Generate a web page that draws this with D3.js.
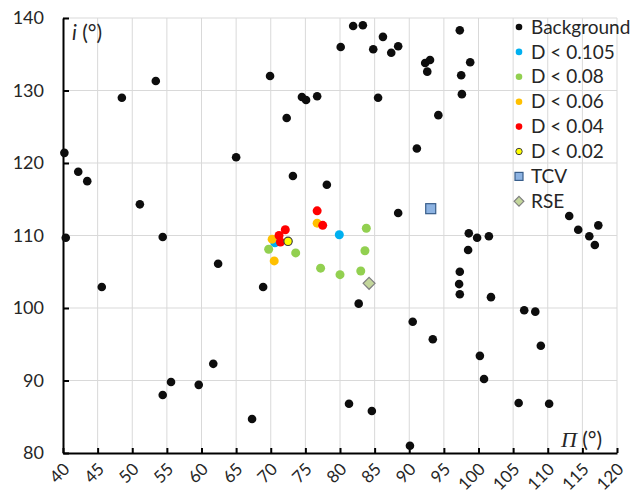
<!DOCTYPE html>
<html>
<head>
<meta charset="utf-8">
<script src="https://cdn.jsdelivr.net/npm/d3@7"></script>
<style>
  body { margin: 0; background: #fff; }
  text { font-family: Lato, "Open Sans", sans-serif; fill: #262626; }
  .grid line { stroke: #d9d9d9; stroke-width: 1; }
</style>
</head>
<body>
<script>
// [Pi, i] pairs
var background = [
  [40.2,121.4],[42.2,118.8],[43.5,117.5],[48.5,129.0],[53.4,131.3],[40.4,109.7],[45.6,102.9],
  [51.1,114.3],[54.4,109.8],[62.4,106.1],[61.7,92.3],[55.6,89.8],[54.4,88.0],[59.6,89.4],
  [65.0,120.8],[69.9,132.0],[72.3,126.2],[74.5,129.1],[75.1,128.7],[76.7,129.2],[73.2,118.2],
  [78.1,117.0],[80.1,136.0],[81.9,138.9],[83.3,139.0],[84.8,135.7],[86.2,137.4],[87.4,135.2],
  [88.4,136.1],[85.5,129.0],[92.3,133.8],[93.0,134.2],[92.6,132.6],[94.2,126.6],[91.1,122.0],
  [97.3,138.3],[97.5,132.1],[97.6,129.5],[98.8,133.9],[88.4,113.1],[98.6,110.3],[99.8,109.7],
  [101.5,109.9],[98.5,108.0],[97.3,105.0],[97.2,103.3],[97.3,101.9],[101.8,101.5],[90.5,98.1],
  [93.4,95.7],[100.2,93.4],[100.8,90.2],[106.6,99.7],[108.2,99.5],[109.0,94.8],[105.8,86.9],
  [110.2,86.8],[90.1,81.0],[113.1,112.7],[114.4,110.8],[117.3,111.4],[116.0,109.9],[116.8,108.7],
  [68.9,102.9],[82.7,100.6],[67.3,84.7],[81.3,86.8],[84.6,85.8]
];
var d0105 = [[79.9,110.1],[70.6,109.0]];
var d008 = [[83.8,111.0],[83.6,107.9],[83.0,105.1],[80.0,104.6],[77.2,105.5],[73.6,107.6],[69.7,108.1]];
var d006 = [[76.7,111.7],[70.5,106.5],[70.2,109.5]];
var d004 = [[76.7,113.4],[77.5,111.4],[71.2,110.0],[72.1,110.8],[71.4,109.1]];
var d002 = [[72.5,109.2]];
var tcv = [[93.1,113.7]];
var rse = [[84.2,103.4]];

var legendLabels = ["Background", "D < 0.105", "D < 0.08", "D < 0.06", "D < 0.04", "D < 0.02", "TCV", "RSE"];
var xTicks = d3.range(40, 121, 5);
var yTicks = d3.range(80, 141, 10);

var width = 632, height = 498;
var margins = {top: 18, left: 63, right: 15, bottom: 45};

var svg = d3.select("body").append("svg")
    .attr("width", width)
    .attr("height", height);

var x = d3.scaleLinear().domain([40, 120]).range([margins.left, width - margins.right]);
var y = d3.scaleLinear().domain([80, 140]).range([height - margins.bottom, margins.top]);

// gridlines
var grid = svg.append("g").attr("class", "grid");
grid.selectAll("line.v").data(xTicks.slice(1)).enter().append("line")
    .attr("x1", function (d) { return x(d); })
    .attr("x2", function (d) { return x(d); })
    .attr("y1", y(140)).attr("y2", y(80));
grid.selectAll("line.h").data(yTicks.slice(1)).enter().append("line")
    .attr("x1", x(40)).attr("x2", x(120))
    .attr("y1", function (d) { return y(d); })
    .attr("y2", function (d) { return y(d); });

// axes
var xAxis = d3.axisBottom(x).tickValues(xTicks).tickSizeInner(-5).tickSizeOuter(0).tickFormat(d3.format("d"));
var yAxis = d3.axisLeft(y).tickValues(yTicks).tickSizeInner(-6).tickSizeOuter(0).tickFormat(d3.format("d"));

var gx = svg.append("g")
    .attr("transform", "translate(0," + y(80) + ")")
    .call(xAxis);
gx.select(".domain").attr("stroke", "#000").attr("stroke-width", 2);
gx.selectAll(".tick line").attr("stroke", "#000").attr("stroke-width", 2);
gx.selectAll(".tick text")
    .attr("font-size", 17)
    .attr("font-family", "Lato, sans-serif")
    .attr("fill", "#262626")
    .attr("text-anchor", "end")
    .attr("x", 0).attr("y", 0).attr("dy", "0.35em")
    .attr("transform", "translate(3,13) rotate(-45)");

var gy = svg.append("g")
    .attr("transform", "translate(" + x(40) + ",0)")
    .call(yAxis);
gy.select(".domain").attr("stroke", "#000").attr("stroke-width", 2);
gy.selectAll(".tick line").attr("stroke", "#000").attr("stroke-width", 2);
gy.selectAll(".tick text")
    .attr("font-size", 18)
    .attr("font-family", "Lato, sans-serif")
    .attr("fill", "#262626")
    .attr("x", -19);

// axis titles
var yt = svg.append("text").attr("x", 72).attr("y", 40).attr("font-size", 21);
yt.append("tspan").attr("font-style", "italic").text("i");
yt.append("tspan").text(" (°)");

var xt = svg.append("text").attr("x", 561).attr("y", 447).attr("font-size", 21);
xt.append("tspan").attr("font-family", "'Liberation Serif', serif").attr("font-style", "italic").attr("font-size", 22).text("Π");
xt.append("tspan").text(" (°)");

// points
var body = svg.append("g");

function dots(data, fill, r, stroke) {
    body.append("g").selectAll("circle").data(data).enter().append("circle")
        .attr("cx", function (d) { return x(d[0]); })
        .attr("cy", function (d) { return y(d[1]); })
        .attr("r", r)
        .attr("fill", fill)
        .attr("stroke", stroke || "none")
        .attr("stroke-width", stroke ? 1.2 : 0);
}

dots(background, "#0d0d0d", 4.3);
dots(d0105, "#00b0f0", 4.5);
dots(d008, "#92d050", 4.5);
dots(d006, "#ffc000", 4.5);
dots(d004, "#ff0000", 4.5);
dots(d002, "#ffff00", 4.2, "#404040");

body.append("g").selectAll("rect").data(tcv).enter().append("rect")
    .attr("x", function (d) { return x(d[0]) - 5; })
    .attr("y", function (d) { return y(d[1]) - 5; })
    .attr("width", 10).attr("height", 10)
    .attr("fill", "#8db3e2").attr("stroke", "#385d8a").attr("stroke-width", 1.2);

var diamond = d3.symbol().type(d3.symbolDiamond2).size(90);
body.append("g").selectAll("path").data(rse).enter().append("path")
    .attr("transform", function (d) { return "translate(" + x(d[0]) + "," + y(d[1]) + ")"; })
    .attr("d", diamond)
    .attr("fill", "#c3d69b").attr("stroke", "#7f7f7f").attr("stroke-width", 1.2);

// legend
var legendStyles = [
    {shape: "circle", fill: "#0d0d0d"},
    {shape: "circle", fill: "#00b0f0"},
    {shape: "circle", fill: "#92d050"},
    {shape: "circle", fill: "#ffc000"},
    {shape: "circle", fill: "#ff0000"},
    {shape: "circle", fill: "#ffff00", stroke: "#404040"},
    {shape: "square", fill: "#8db3e2", stroke: "#385d8a"},
    {shape: "diamond", fill: "#c3d69b", stroke: "#7f7f7f"}
];

var legend = svg.append("g").attr("transform", "translate(519,27)");
var rows = legend.selectAll("g").data(legendLabels).enter().append("g")
    .attr("transform", function (d, i) { return "translate(0," + (i * 24.9) + ")"; });

rows.each(function (d, i) {
    var g = d3.select(this), s = legendStyles[i];
    if (s.shape === "circle") {
        g.append("circle").attr("r", s.stroke ? 3.2 : 3.3).attr("fill", s.fill)
            .attr("stroke", s.stroke || "none").attr("stroke-width", s.stroke ? 1 : 0);
    } else if (s.shape === "square") {
        g.append("rect").attr("x", -4).attr("y", -4).attr("width", 8).attr("height", 8)
            .attr("fill", s.fill).attr("stroke", s.stroke).attr("stroke-width", 1.2);
    } else {
        g.append("path").attr("d", d3.symbol().type(d3.symbolDiamond2).size(60))
            .attr("fill", s.fill).attr("stroke", s.stroke).attr("stroke-width", 1.2);
    }
    g.append("text").attr("x", 12).attr("dy", "0.35em").attr("font-size", 19).text(d);
});
</script>
</body>
</html>
